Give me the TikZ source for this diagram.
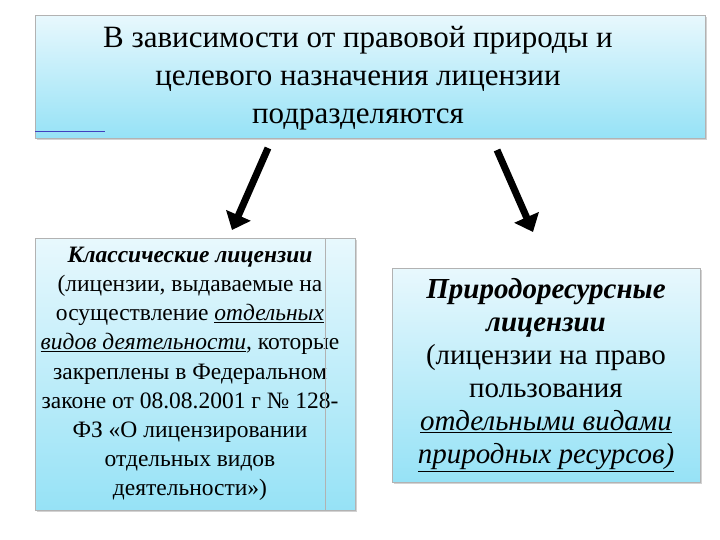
\documentclass[tikz,border=0pt]{standalone}
\usepackage{fontspec}
\setmainfont{Liberation Serif}
\usetikzlibrary{arrows.meta,shadows}
\definecolor{skyb}{RGB}{150,226,246}
\definecolor{skyt}{RGB}{232,248,253}
\tikzset{
  panel/.style={draw=gray!60, top color=skyt, bottom color=skyb, drop shadow={shadow xshift=1.5pt,shadow yshift=-1.5pt,fill=gray!70}, inner sep=0pt},
  bigarrow/.style={line width=7pt, -{Triangle[length=16pt,width=26pt]}, black}
}
\begin{document}
\begin{tikzpicture}[x=1pt,y=-1pt]
\useasboundingbox (0,0) rectangle (720,540);
\node[panel, minimum width=670pt, minimum height=123pt, anchor=north west] (top) at (35,15) {};
\node[align=center, font=\fontsize{31}{38}\selectfont] (toptext) at (358,78) {В зависимости от правовой природы и\\ целевого назначения лицензии\\ подразделяются};
\draw[blue!50!gray, line width=0.6pt] (35,131) -- (105,131);
\node[panel, minimum width=320pt, minimum height=272pt, anchor=north west] (left) at (35,238) {};
\node[align=center, font=\fontsize{23.5}{29.2}\selectfont] (lefttext) at (190,374) {\textbf{\textit{Классические лицензии}}\\ (лицензии, выдаваемые на\\ осуществление \underline{\textit{отдельных}}\\ \underline{\textit{видов деятельности}}, которые\\ закреплены в Федеральном\\ законе от 08.08.2001 г № 128-\\ ФЗ «О лицензировании\\ отдельных видов\\ деятельности»)};
\draw[gray!60] (325,238) -- (325,510);
\node[panel, minimum width=308pt, minimum height=214pt, anchor=north west] (right) at (392,268) {};
\node[align=center, font=\fontsize{29}{33}\selectfont] (righttext) at (546,375) {\textbf{\textit{Природоресурсные}}\\ \textbf{\textit{лицензии}}\\ (лицензии на право\\ пользования\\ \underline{\textit{отдельными видами}}\\ \underline{\textit{природных ресурсов)}}};
\coordinate (a1) at (268,148);
\coordinate (a2) at (232,230);
\coordinate (b1) at (497,150);
\coordinate (b2) at (533,232);
\draw[bigarrow] (a1) -- (a2);
\draw[bigarrow] (b1) -- (b2);
\end{tikzpicture}
\end{document}
